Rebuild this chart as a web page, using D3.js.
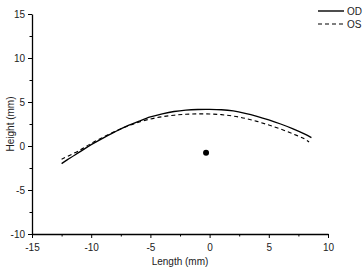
<!DOCTYPE html>
<html>
<head>
<meta charset="utf-8">
<script src="https://cdn.jsdelivr.net/npm/d3@7"></script>
<style>
  body { margin: 0; background: #fff; }
  svg text { font-family: "Liberation Sans", Arial, sans-serif; fill: #222; }
  .axis path, .axis line { stroke: #000; }
</style>
</head>
<body>
<div id="chart"></div>
<script>
const odLength = [-12.5, -12, -11, -10, -9, -8, -7, -6, -5, -4, -3, -2, -1, 0, 1, 2, 3, 4, 5, 6, 7, 8, 8.6];
const odHeight = [-2.0, -1.55, -0.7, 0.15, 0.9, 1.6, 2.25, 2.8, 3.3, 3.65, 3.92, 4.08, 4.15, 4.16, 4.12, 3.98, 3.72, 3.38, 2.97, 2.5, 1.98, 1.38, 0.95];

const osLength = [-12.5, -11, -10, -9, -8, -7, -6, -5, -4, -3, -2, -1, 0, 1, 2, 3, 4, 5, 6, 7, 8, 8.4];
const osHeight = [-1.5, -0.5, 0.3, 1.0, 1.65, 2.22, 2.7, 3.07, 3.33, 3.5, 3.6, 3.65, 3.64, 3.56, 3.4, 3.15, 2.8, 2.38, 1.92, 1.4, 0.82, 0.45];

const centerPoint = [{ x: -0.3, y: -0.76 }];

const xTicks = [-15, -10, -5, 0, 5, 10];
const yTicks = [-10, -5, 0, 5, 10, 15];

const seriesNames = ["OD", "OS"];

function drawChart() {
  const margin = { top: 14, right: 35, bottom: 36, left: 32 };
  const width = 363 - margin.left - margin.right;
  const height = 270 - margin.top - margin.bottom;

  const svg = d3.select("#chart")
    .append("svg")
    .attr("width", 363)
    .attr("height", 270)
    .append("g")
    .attr("transform", `translate(${margin.left},${margin.top})`);

  const x = d3.scaleLinear().domain([-15, 10]).range([0, width]);
  const y = d3.scaleLinear().domain([-10, 15]).range([height, 0]);

  // minor ticks
  svg.append("g")
    .attr("class", "axis")
    .attr("transform", `translate(0,${height})`)
    .call(d3.axisBottom(x).tickValues(d3.range(-12.5, 10, 5)).tickSize(2.5).tickFormat(""))
    .select(".domain").remove();
  svg.append("g")
    .attr("class", "axis")
    .call(d3.axisLeft(y).tickValues(d3.range(-7.5, 15, 5)).tickSize(2.5).tickFormat(""))
    .select(".domain").remove();

  const xAxis = svg.append("g")
    .attr("class", "axis")
    .attr("transform", `translate(0,${height})`)
    .call(d3.axisBottom(x).tickValues(xTicks).tickSize(4).tickSizeOuter(0).tickFormat(d => d));
  xAxis.selectAll("text").style("font-size", "10px").attr("dy", "0.95em");
  xAxis.select(".domain").attr("stroke-width", 1.3);

  const yAxis = svg.append("g")
    .attr("class", "axis")
    .call(d3.axisLeft(y).tickValues(yTicks).tickSize(4).tickSizeOuter(0).tickFormat(d => d));
  yAxis.selectAll("text").style("font-size", "10px");
  yAxis.select(".domain").attr("stroke-width", 1.3);

  svg.append("text")
    .attr("transform", "rotate(-90)")
    .attr("x", -height / 2)
    .attr("y", -margin.left + 10)
    .attr("dy", "0.35em")
    .style("text-anchor", "middle")
    .style("font-size", "10px")
    .text("Height (mm)");

  svg.append("text")
    .attr("x", width / 2)
    .attr("y", height + 31)
    .style("text-anchor", "middle")
    .style("font-size", "10px")
    .text("Length (mm)");

  const od = odLength.map((d, i) => ({ x: d, y: odHeight[i] }));
  const os = osLength.map((d, i) => ({ x: d, y: osHeight[i] }));

  const line = d3.line()
    .x(d => x(d.x))
    .y(d => y(d.y))
    .curve(d3.curveCatmullRom);

  svg.append("path")
    .datum(od)
    .attr("fill", "none")
    .attr("stroke", "#000")
    .attr("stroke-width", 1.3)
    .attr("d", line);

  svg.append("path")
    .datum(os)
    .attr("fill", "none")
    .attr("stroke", "#000")
    .attr("stroke-width", 1.1)
    .attr("stroke-dasharray", "4,3")
    .attr("d", line);

  svg.selectAll(".dot")
    .data(centerPoint)
    .enter().append("circle")
    .attr("cx", d => x(d.x))
    .attr("cy", d => y(d.y))
    .attr("r", 3)
    .attr("fill", "#000");

  // legend
  const legend = svg.append("g").attr("transform", `translate(${width - 10}, -3)`);
  seriesNames.forEach((name, i) => {
    const g = legend.append("g").attr("transform", `translate(0, ${i * 13})`);
    g.append("line")
      .attr("x1", 0).attr("x2", 26)
      .attr("stroke", "#000")
      .attr("stroke-width", i === 0 ? 1.4 : 1.1)
      .attr("stroke-dasharray", i === 0 ? null : "4,3");
    g.append("text")
      .attr("x", 29)
      .attr("dy", "0.35em")
      .style("font-size", "10px")
      .text(name);
  });
}

drawChart();
</script>
</body>
</html>
